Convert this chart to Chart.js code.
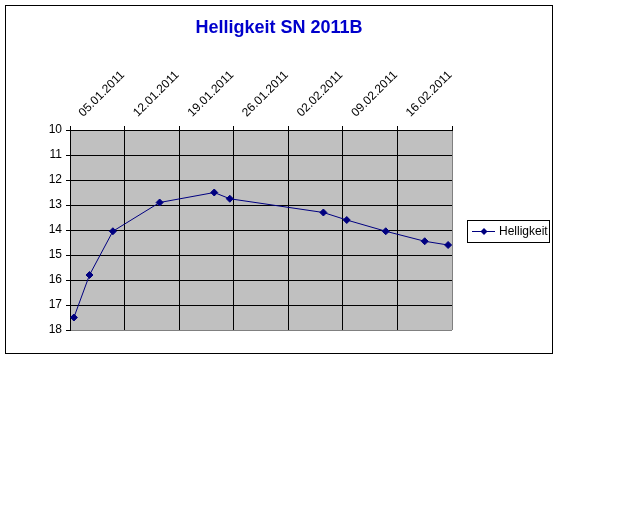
<!DOCTYPE html>
<html>
<head>
<meta charset="utf-8">
<script src="https://cdn.jsdelivr.net/npm/chart.js@4.4.1/dist/chart.umd.min.js"></script>
<style>
    body { margin: 0; background: #fff; }
    #frame {
        position: absolute; left: 5px; top: 5px;
        width: 546px; height: 347px;
        border: 1px solid #000;
    }
</style>
</head>
<body>
<div id="frame"><canvas id="chart" width="546" height="347"></canvas></div>
<script>
// observation dates and magnitudes of SN 2011B
const dates = [`05.01.2011`, `07.01.2011`, `10.01.2011`, `16.01.2011`, `23.01.2011`, `25.01.2011`,
               `06.02.2011`, `09.02.2011`, `14.02.2011`, `19.02.2011`, `22.02.2011`];
const helligkeit = [17.5, 15.8, 14.05, 12.9, 12.5, 12.75, 13.3, 13.6, 14.05, 14.45, 14.6];
const weekLabels = [`05.01.2011`, `12.01.2011`, `19.01.2011`, `26.01.2011`, `02.02.2011`, `09.02.2011`, `16.02.2011`];
const yTicks = [10, 11, 12, 13, 14, 15, 16, 17, 18];

const toDay = s => {
    const [d, m, y] = s.split(`.`).map(Number);
    return Date.UTC(y, m - 1, d) / 86400000;
};
const day0 = toDay(weekLabels[0]);
const points = dates.map((d, i) => ({x: toDay(d) - day0, y: helligkeit[i]}));

const font = {family: `"Liberation Sans", Arial, sans-serif`, size: 12};

const plotBackground = {
    id: `plotBackground`,
    beforeDraw(chart) {
        const {ctx, chartArea: a} = chart;
        ctx.save();
        ctx.fillStyle = `#c0c0c0`;
        ctx.fillRect(a.left, a.top, a.right - a.left, a.bottom - a.top);
        ctx.restore();
    }
};

// Excel style legend: framed, line with diamond marker
const boxLegend = {
    id: `boxLegend`,
    afterDraw(chart) {
        const {ctx} = chart;
        const ds = chart.data.datasets[0];
        const x = 461, y = 214, w = 82, h = 22;
        ctx.save();
        ctx.fillStyle = `#fff`;
        ctx.fillRect(x, y, w, h);
        ctx.strokeStyle = `#000`;
        ctx.lineWidth = 1;
        ctx.strokeRect(x + 0.5, y + 0.5, w, h);
        const cy = y + h / 2 + 0.5;
        ctx.strokeStyle = ds.borderColor;
        ctx.beginPath();
        ctx.moveTo(x + 5, cy);
        ctx.lineTo(x + 28, cy);
        ctx.stroke();
        ctx.fillStyle = ds.borderColor;
        ctx.beginPath();
        ctx.moveTo(x + 17, cy - 3.5); ctx.lineTo(x + 20.5, cy);
        ctx.lineTo(x + 17, cy + 3.5); ctx.lineTo(x + 13.5, cy);
        ctx.closePath(); ctx.fill();
        ctx.fillStyle = `#000`;
        ctx.font = `12px ${font.family}`;
        ctx.textBaseline = `middle`;
        ctx.fillText(ds.label, x + 32, cy);
        ctx.restore();
    }
};

new Chart(document.getElementById(`chart`), {
    type: `line`,
    data: {
        datasets: [{
            label: `Helligkeit`,
            data: points,
            borderColor: `#000080`,
            backgroundColor: `#000080`,
            borderWidth: 1,
            pointStyle: `rectRot`,
            pointRadius: 3.5,
            pointBorderWidth: 1,
            tension: 0
        }]
    },
    options: {
        responsive: false,
        animation: false,
        layout: {padding: {top: 0, left: 0, right: 0, bottom: 23}},
        plugins: {
            legend: {display: false},
            tooltip: {enabled: false},
            title: {
                display: true,
                text: `Helligkeit SN 2011B`,
                color: `#0000cc`,
                font: {family: font.family, size: 18, weight: `bold`, lineHeight: 1.2},
                padding: {top: 11, bottom: 0}
            }
        },
        scales: {
            x: {
                type: `linear`,
                position: `top`,
                min: -0.5,
                max: 48.5,
                afterBuildTicks: s => { s.ticks = weekLabels.concat([``]).map((_, k) => ({value: -0.5 + 7 * k})); },
                afterFit: s => { s.height = 91.4; s.paddingLeft = 0; s.paddingRight = 0; },
                grid: {
                    color: c => c.index === 7 ? `#808080` : `#000`,
                    tickColor: `#000`,
                    tickLength: 4,
                    lineWidth: 1
                },
                border: {color: `#000`, width: 1},
                ticks: {
                    autoSkip: false,
                    minRotation: 45,
                    maxRotation: 45,
                    labelOffset: 21,
                    padding: 6,
                    color: `#000`,
                    font: font,
                    callback: (v, i) => weekLabels[i] || ``
                }
            },
            y: {
                reverse: true,
                min: 10,
                max: 18,
                afterBuildTicks: s => { s.ticks = yTicks.map(v => ({value: v})); },
                afterFit: s => { s.width = 64; s.paddingTop = 0; s.paddingBottom = 0; },
                grid: {
                    color: c => c.tick && c.tick.value === 18 ? `#808080` : `#000`,
                    tickColor: `#000`,
                    tickLength: 4,
                    lineWidth: 1
                },
                border: {color: `#000`, width: 1},
                ticks: {
                    padding: 4,
                    color: `#000`,
                    font: font
                }
            },
            // empty right-hand axis that keeps room for the legend
            spacer: {
                axis: `y`,
                position: `right`,
                display: true,
                grid: {display: false},
                border: {display: false},
                ticks: {display: false},
                afterFit: s => { s.width = 100; s.paddingTop = 0; s.paddingBottom = 0; }
            }
        }
    },
    plugins: [plotBackground, boxLegend]
});
</script>
</body>
</html>
